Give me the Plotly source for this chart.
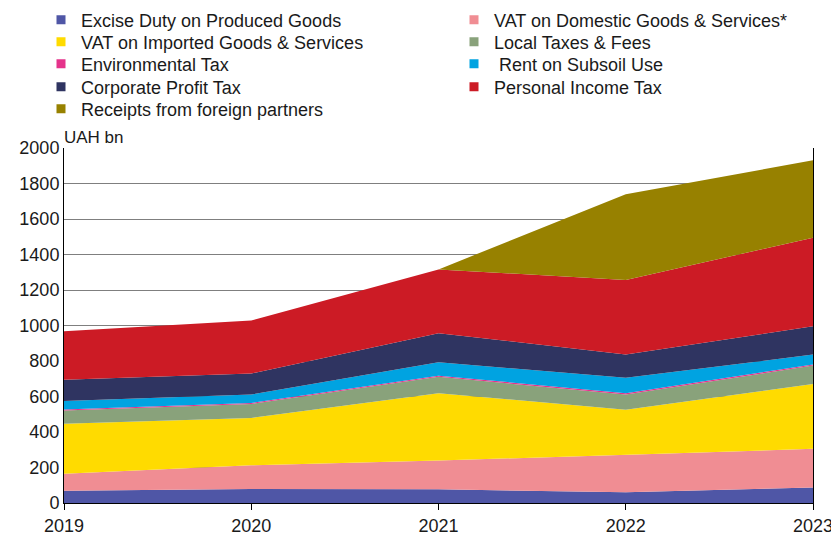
import plotly.graph_objects as go

years = [2019, 2020, 2021, 2022, 2023]
tick_labels = ["2019", "2020", "2021", "2022", "2023"]

excise = [69, 79, 77, 60, 88]
vat_domestic = [96, 133, 162, 211, 217]
vat_imported = [282, 267, 379, 255, 366]
local_taxes = [74, 79, 93, 85, 103]
environmental = [6, 6, 6, 8, 6]
rent_subsoil = [48, 47, 76, 86, 56]
corporate = [119, 118, 164, 131, 160]
personal_income = [274, 299, 359, 420, 499]
foreign = [0, 0, 0, 483, 436]

names = [
    "Excise Duty on Produced Goods",
    "VAT on Domestic Goods & Services*",
    "VAT on Imported Goods & Services",
    "Local Taxes & Fees",
    "Environmental Tax",
    " Rent on Subsoil Use",
    "Corporate Profit Tax",
    "Personal Income Tax",
    "Receipts from foreign partners",
]
values = [excise, vat_domestic, vat_imported, local_taxes, environmental,
          rent_subsoil, corporate, personal_income, foreign]
colors = ["#4F56A6", "#F08D93", "#FFDB00", "#89A27B", "#E5338B",
          "#00A3E1", "#2F3461", "#CC1B25", "#978100"]

fig = go.Figure()
for name, vals, color in zip(names, values, colors):
    fig.add_trace(go.Scatter(
        x=years, y=vals, stackgroup="one", mode="lines",
        line=dict(width=0, color=color), fillcolor=color,
        name=name, showlegend=False, hoverinfo="x+y+name",
    ))

# legend layout: two columns, one legend per entry for exact placement
row_px = [20, 42, 64, 87, 109]
col_left_px = [41, 454]
plot_left, plot_w, plot_bottom, plot_h = 64, 749, 503, 355
legend_layout = {}
for i, (name, color) in enumerate(zip(names, colors)):
    key = "legend" if i == 0 else f"legend{i + 1}"
    row, col = divmod(i, 2)
    fig.add_trace(go.Scatter(
        x=[None], y=[None], mode="markers",
        marker=dict(symbol="square", size=9, color=color),
        name=name, legend=key, showlegend=True, hoverinfo="skip",
    ))
    legend_layout[key] = dict(
        x=(col_left_px[col] - plot_left) / plot_w,
        y=(plot_bottom - row_px[row]) / plot_h,
        xref="paper", yref="paper", xanchor="left", yanchor="middle",
        orientation="v", font=dict(size=18), itemwidth=30,
        bgcolor="rgba(0,0,0,0)", borderwidth=0,
    )

font_family = "Liberation Sans, Arial, sans-serif"
fig.update_layout(
    width=831, height=535,
    margin=dict(l=64, r=18, t=148, b=32, autoexpand=False),
    paper_bgcolor="white", plot_bgcolor="white",
    font=dict(family=font_family, size=18, color="#1a1a1a"),
    xaxis=dict(
        range=[2019, 2023], tickmode="array", tickvals=years, ticktext=tick_labels,
        showgrid=False, showline=True, linecolor="black", linewidth=1,
        ticks="outside", ticklen=6, tickcolor="black", zeroline=False,
        tickfont=dict(size=18), ticklabeloverflow="allow",
    ),
    yaxis=dict(
        range=[0, 2000], dtick=200, showgrid=True, gridcolor="#7f7f7f", gridwidth=1,
        showline=True, linecolor="black", linewidth=1, mirror=True,
        ticks="", zeroline=False, tickfont=dict(size=18),
    ),
    annotations=[dict(
        text="UAH bn", xref="paper", yref="paper", x=0.0, y=1.0,
        xanchor="left", yanchor="bottom", showarrow=False, font=dict(size=17),
        xshift=-2, yshift=-1,
    )],
    **legend_layout,
)

fig.write_html(
    "out.html",
    config={"displayModeBar": False},
    post_script="document.body.style.margin='0';document.body.style.padding='0';",
)
